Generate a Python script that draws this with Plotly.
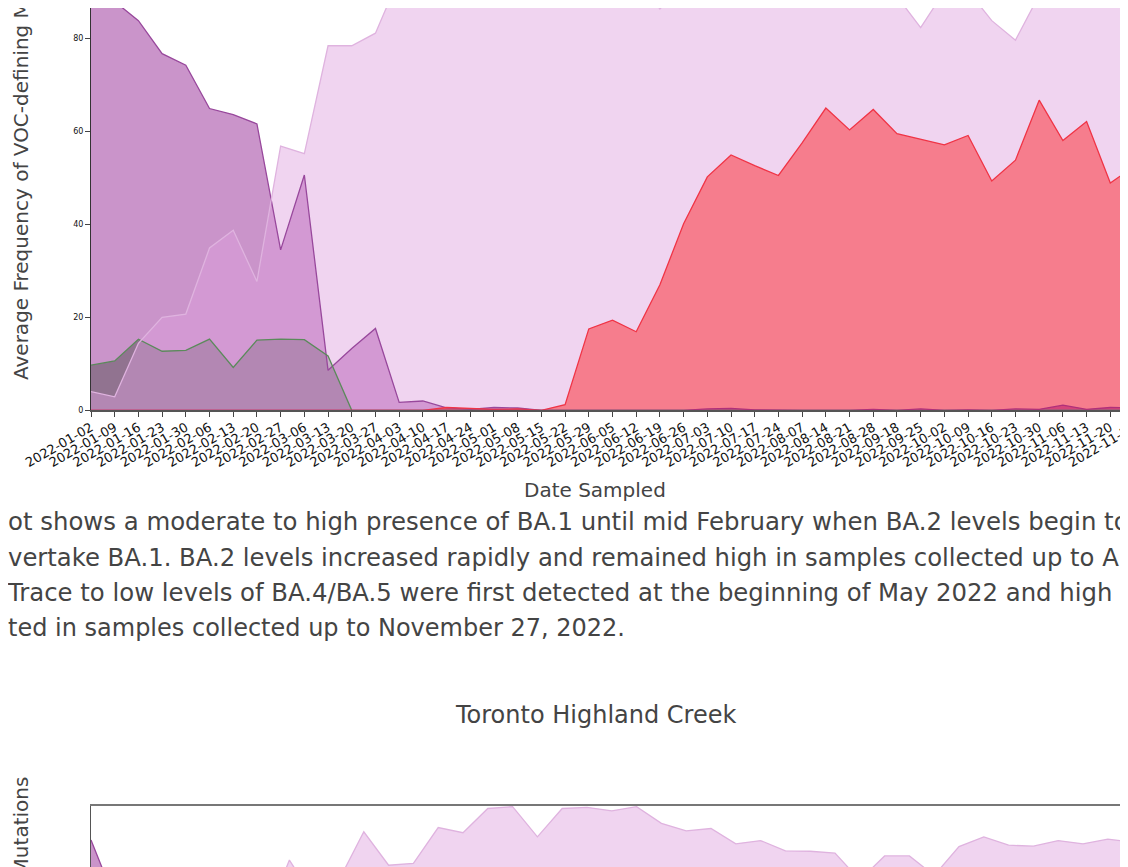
import plotly.graph_objects as go

# ---------------- data ----------------
dates = ["2022-01-02", "2022-01-09", "2022-01-16", "2022-01-23", "2022-01-30",
         "2022-02-06", "2022-02-13", "2022-02-20", "2022-02-27", "2022-03-06",
         "2022-03-13", "2022-03-20", "2022-03-27", "2022-04-03", "2022-04-10",
         "2022-04-17", "2022-04-24", "2022-05-01", "2022-05-08", "2022-05-15",
         "2022-05-22", "2022-05-29", "2022-06-05", "2022-06-12", "2022-06-19",
         "2022-06-26", "2022-07-03", "2022-07-10", "2022-07-17", "2022-07-24",
         "2022-08-07", "2022-08-14", "2022-08-21", "2022-08-28", "2022-09-18",
         "2022-09-25", "2022-10-02", "2022-10-09", "2022-10-16", "2022-10-23",
         "2022-10-30", "2022-11-06", "2022-11-13", "2022-11-20", "2022-11-27"]

ba1 = [90.3, 87.9, 83.8, 76.7, 74.2, 64.9, 63.6, 61.6, 34.5, 50.6,
       8.6, 13.3, 17.6, 1.7, 2.0, 0.5, 0.2, 0.6, 0.5, 0.0,
       0, 0, 0, 0, 0, 0, 0, 0, 0, 0,
       0, 0, 0, 0, 0, 0, 0, 0, 0, 0,
       0, 0, 0, 0, 0]

ba11 = [9.7, 10.6, 15.3, 12.7, 12.9, 15.3, 9.2, 15.1, 15.3, 15.2,
        11.7, 0, 0, 0, 0, 0, 0, 0, 0, 0,
        0, 0, 0, 0, 0, 0, 0, 0, 0, 0,
        0, 0, 0, 0, 0, 0, 0, 0, 0, 0,
        0, 0, 0, 0, 0]

ba2 = [4.0, 2.9, 14.4, 20.0, 20.7, 34.9, 38.7, 27.7, 56.8, 55.2,
       78.4, 78.4, 81.1, 93.0, 97.5, 99.0, 98.5, 99.2, 98.0, 99.5,
       97.0, 95.5, 96.0, 93.2, 86.3, 91.8, 96.5, 95.0, 97.0, 96.0,
       98.0, 97.5, 96.5, 95.0, 89.0, 82.3, 90.1, 90.2, 83.8, 79.6,
       89.3, 93.0, 95.0, 94.0, 93.0]

ba45 = [0, 0, 0, 0, 0, 0, 0, 0, 0, 0,
        0, 0, 0, 0, 0.0, 0.6, 0.4, 0.2, 0.3, 0.0,
        1.2, 17.5, 19.4, 16.9, 27.0, 40.1, 50.2, 54.9, 52.6, 50.5,
        57.5, 65.0, 60.3, 64.7, 59.5, 58.3, 57.1, 59.1, 49.3, 53.8,
        66.7, 58.0, 62.1, 48.9, 52.4]

other = [0, 0, 0, 0, 0, 0, 0, 0, 0, 0,
         0, 0, 0, 0, 0, 0, 0, 0, 0, 0,
         0, 0, 0, 0, 0, 0, 0.3, 0.4, 0.1, 0,
         0, 0, 0, 0.2, 0, 0.3, 0, 0.1, 0, 0.3,
         0.2, 1.1, 0.2, 0.6, 0.5]

# second site (only its top strip is visible)
dates_hc = dates[:43]
ba1_hc = [92.6, 79.3, 70.0, 62.0, 55.0, 45.0, 35.0, 28.0, 20.0, 12.0,
          8.0, 5.0, 3.0, 2.0, 1.0, 0.5, 0, 0, 0, 0,
          0, 0, 0, 0, 0, 0, 0, 0, 0, 0,
          0, 0, 0, 0, 0, 0, 0, 0, 0, 0,
          0, 0, 0]
ba2_hc = [2.0, 5.0, 10.0, 18.0, 30.0, 45.0, 62.0, 75.0, 88.3, 80.0,
          84.0, 94.4, 87.2, 87.6, 95.3, 94.2, 99.4, 99.8, 93.3, 99.4,
          99.65, 98.9, 99.8, 96.2, 94.6, 95.1, 91.8, 92.5, 90.3, 90.2,
          89.8, 84.0, 89.2, 89.2, 85.0, 91.2, 93.3, 91.5, 91.3, 92.5,
          91.8, 92.8, 92.2]

y_ticks = [0, 20, 40, 60, 80]

ylabel = "Average Frequency of VOC-defining Mutations"
xlabel = "Date Sampled"
title2 = "Toronto Highland Creek"
para_lines = [
    "ot shows a moderate to high presence of BA.1 until mid February when BA.2 levels begin to",
    "vertake BA.1. BA.2 levels increased rapidly and remained high in samples collected up to August 2022.",
    "Trace to low levels of BA.4/BA.5 were first detected at the beginning of May 2022 and high levels were",
    "ted in samples collected up to November 27, 2022.",
]

# ---------------- layout helpers ----------------
W, H = 1128, 867
OFF = 8            # page body margin: figure pixel (0,0) lands at screen (8,8)
FONT = "DejaVu Sans"


def px(x):
    """screen x pixel -> paper fraction"""
    return (x - OFF) / W


def py(y):
    """screen y pixel (from top) -> paper fraction"""
    return 1 - (y - OFF) / H


PXU = 4.65                     # pixels per percent on both panels
top_plot_bottom = 410.3        # screen y of the 0 line (top panel)
top_ymax = (top_plot_bottom - OFF) / PXU
hc_top = 805.7                 # screen y of the top frame (second panel)
hc_ymin = 100 - (H + OFF - hc_top) / PXU

para_pos = [(6, 521.5), (6, 557), (5, 592.5), (6, 628)]
para_size = [24.4, 24.3, 24.35, 24]

fig = go.Figure()

series = [
    ("BA.1", ba1, "rgba(128,0,128,0.42)", "#98489c"),
    ("BA.1.1", ba11, "rgba(31,50,28,0.33)", "#5b8a5b"),
    ("BA.2", ba2, "rgba(221,160,221,0.45)", "#dfb3df"),
    ("BA.4/BA.5", ba45, "rgba(255,0,0,0.41)", "#f03446"),
    ("Other", other, "rgba(170,0,100,0.45)", "#b0307a"),
]
for name, vals, fc, lc in series:
    fig.add_trace(go.Scatter(x=dates, y=vals, mode="lines", name=name,
                             line=dict(width=0), fill="tozeroy", fillcolor=fc,
                             showlegend=False, hoverinfo="skip",
                             xaxis="x", yaxis="y"))
for name, vals, fc, lc in series:
    fig.add_trace(go.Scatter(x=dates, y=vals, mode="lines", name=name,
                             line=dict(width=1.3, color=lc),
                             showlegend=False, xaxis="x", yaxis="y"))

series2 = [
    ("BA.1", ba1_hc, "rgba(128,0,128,0.42)", "#98489c"),
    ("BA.2", ba2_hc, "rgba(221,160,221,0.45)", "#dfb3df"),
]
for name, vals, fc, lc in series2:
    fig.add_trace(go.Scatter(x=dates_hc, y=vals, mode="lines", name=name,
                             line=dict(width=0), fill="tozeroy", fillcolor=fc,
                             showlegend=False, hoverinfo="skip",
                             xaxis="x2", yaxis="y2"))
for name, vals, fc, lc in series2:
    fig.add_trace(go.Scatter(x=dates_hc, y=vals, mode="lines", name=name,
                             line=dict(width=1.3, color=lc),
                             showlegend=False, xaxis="x2", yaxis="y2"))

annotations = [
    dict(text=ylabel, textangle=-90, x=px(21), y=py(382), xanchor="center",
         yanchor="bottom", font=dict(size=20, color="#444", family=FONT)),
    dict(text=ylabel, textangle=-90, x=px(21), y=py(775), xanchor="center",
         yanchor="top", font=dict(size=20, color="#444", family=FONT)),
    dict(text=xlabel, x=px(595), y=py(490), xanchor="center", yanchor="middle",
         font=dict(size=20, color="#444", family=FONT)),
    dict(text=title2, x=px(595), y=py(715), xanchor="center", yanchor="middle",
         font=dict(size=24, color="#444", family=FONT)),
]
for txt, (x0, yc), fs in zip(para_lines, para_pos, para_size):
    annotations.append(dict(text=txt, x=px(x0), y=py(yc), xanchor="left",
                            yanchor="middle", align="left",
                            font=dict(size=fs, color="#444", family=FONT)))
for a in annotations:
    a.update(xref="paper", yref="paper", showarrow=False)

fig.update_layout(
    width=W, height=H,
    margin=dict(l=0, r=0, t=0, b=0),
    paper_bgcolor="white", plot_bgcolor="white",
    font=dict(family=FONT),
    showlegend=False,
    annotations=annotations,
    xaxis=dict(domain=[px(91), px(1134)], type="category", categoryorder="array",
               categoryarray=dates, range=[0, len(dates) - 1], anchor="y",
               tickangle=-30, tickfont=dict(size=13, color="#111", family=FONT),
               ticklabelstandoff=-2,
               ticks="outside", ticklen=5, tickcolor="#444",
               showline=True, linecolor="#555", linewidth=1.5,
               showgrid=False, zeroline=False, automargin=False),
    yaxis=dict(domain=[py(top_plot_bottom), 1], range=[0, top_ymax], anchor="x",
               tickvals=y_ticks, tickfont=dict(size=8, color="#111", family=FONT),
               ticks="outside", ticklen=5, tickcolor="#444",
               showline=True, linecolor="#333", linewidth=1,
               showgrid=False, zeroline=False, automargin=False),
    xaxis2=dict(domain=[px(91), px(1132.6)], type="category", categoryorder="array",
                categoryarray=dates_hc, range=[0, len(dates_hc) - 1],
                anchor="y2", side="top", showticklabels=False, ticks="",
                showline=True, linecolor="#777", linewidth=1.5,
                showgrid=False, zeroline=False, automargin=False),
    yaxis2=dict(domain=[0, py(hc_top)], range=[hc_ymin, 100], anchor="x2",
                tickvals=y_ticks, showticklabels=False, ticks="",
                showline=True, linecolor="#555", linewidth=1,
                showgrid=False, zeroline=False, automargin=False),
)

fig.write_html("out.html")
